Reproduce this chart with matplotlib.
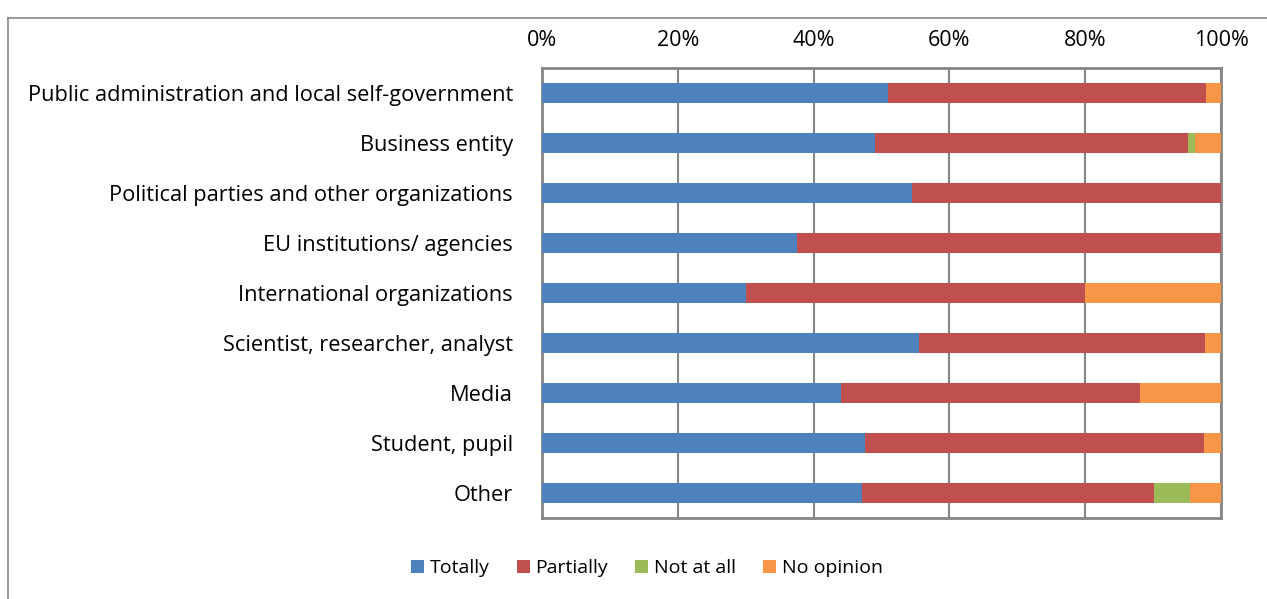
import numpy as np
import matplotlib as mpl
import matplotlib.pyplot as plt

mpl.use("Agg")
plt.rcParams["font.family"] = ["Open Sans", "DejaVu Sans"]

categories = [
    "Public administration and local self-government",
    "Business entity",
    "Political parties and other organizations",
    "EU institutions/ agencies",
    "International organizations",
    "Scientist, researcher, analyst",
    "Media",
    "Student, pupil",
    "Other",
]
totally = [50.9, 49.1, 54.5, 37.5, 30.0, 55.5, 44.1, 47.5, 47.1]
partially = [46.9, 46.0, 45.5, 62.5, 50.0, 42.1, 44.0, 50.0, 43.0]
not_at_all = [0.0, 1.1, 0.0, 0.0, 0.0, 0.0, 0.0, 0.0, 5.4]
no_opinion = [2.2, 3.8, 0.0, 0.0, 20.0, 2.4, 11.9, 2.5, 4.5]

series = [
    ("Totally", totally, "#4F81BD"),
    ("Partially", partially, "#C0504D"),
    ("Not at all", not_at_all, "#9BBB59"),
    ("No opinion", no_opinion, "#F79646"),
]

fig = plt.figure(figsize=(12.67, 5.99), dpi=100)
ax = fig.add_axes([542 / 1267, 81 / 599, 679 / 1267, 450 / 599])

y = np.arange(len(categories))
left = np.zeros(len(categories))
for name, vals, color in series:
    vals = np.array(vals)
    ax.barh(y, vals, left=left, height=0.4, color=color, label=name, zorder=3)
    left += vals

ax.set_ylim(len(categories) - 0.5, -0.5)
ax.set_xlim(0, 100)
ax.set_yticks(y)
ax.set_yticklabels(categories, fontsize=15.7)
ax.set_xticks(np.arange(0, 101, 20))
ax.xaxis.set_major_formatter(mpl.ticker.FuncFormatter(lambda v, p: f"{v:.0f}%"))
ax.xaxis.tick_top()
ax.tick_params(axis="x", length=0, pad=12, labelsize=15.5)
ax.tick_params(axis="y", length=0, pad=21)
ax.grid(axis="x", color="#868686", linewidth=1.5, zorder=0)

for s in ax.spines.values():
    s.set_color("#868686")
    s.set_linewidth(2)

# outer chart border (left and top edges visible)
fig.add_artist(mpl.lines.Line2D([8 / 1267, 8 / 1267], [0, 1 - 18 / 599],
                                color="#868686", linewidth=1.2))
fig.add_artist(mpl.lines.Line2D([8 / 1267, 1], [1 - 18 / 599, 1 - 18 / 599],
                                color="#868686", linewidth=1.2))

fig.legend(
    loc="center",
    bbox_to_anchor=(647 / 1267, 1 - 568 / 599),
    ncol=4,
    frameon=False,
    fontsize=14,
    handlelength=0.65,
    handleheight=0.65,
    handletextpad=0.3,
    columnspacing=1.4,
)

fig.savefig("out.png", dpi=100)
